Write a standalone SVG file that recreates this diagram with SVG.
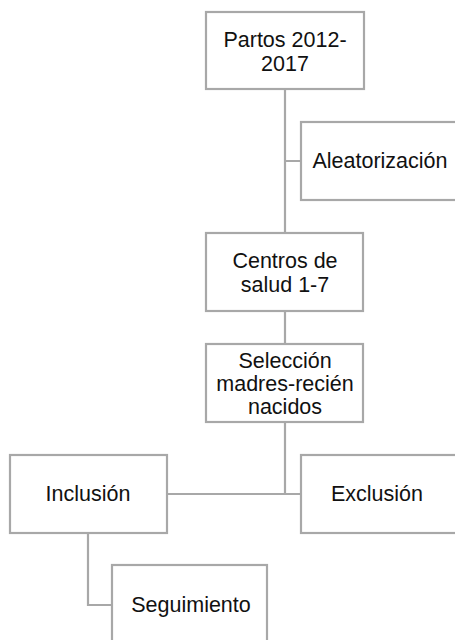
<svg xmlns="http://www.w3.org/2000/svg" width="455" height="640" viewBox="0 0 455 640">
<style>
.box{fill:#fff;stroke:#a8a8a8;stroke-width:2.2}
.lbl{font-family:"Liberation Sans",Arial,sans-serif;font-size:21.5px;fill:#111;text-anchor:middle}
.con{fill:none;stroke:#a8a8a8;stroke-width:2.2}
</style>
<rect width="455" height="640" fill="#fff"/>
<g id="connectors">
<path class="con" d="M285,89 V233 M285,161 H301 M285,311 V344 M285,422 V494 M167,494 H301 M88,533 V605 H112"/>
</g>
<g id="partos">
<rect class="box" x="206" y="12" width="158" height="77"/>
<text class="lbl" x="285" y="47">Partos 2012-</text>
<text class="lbl" x="285" y="71">2017</text>
</g>
<g id="aleatorizacion">
<rect class="box" x="301" y="122" width="160" height="78"/>
<text class="lbl" x="380" y="168">Aleatorización</text>
</g>
<g id="centros">
<rect class="box" x="206" y="233" width="157" height="78"/>
<text class="lbl" x="285" y="268">Centros de</text>
<text class="lbl" x="285" y="292">salud 1-7</text>
</g>
<g id="seleccion">
<rect class="box" x="206" y="344" width="157" height="78"/>
<text class="lbl" x="285" y="368">Selección</text>
<text class="lbl" x="285" y="391">madres-recién</text>
<text class="lbl" x="285" y="414">nacidos</text>
</g>
<g id="inclusion">
<rect class="box" x="10" y="455" width="157" height="78"/>
<text class="lbl" x="88" y="501">Inclusión</text>
</g>
<g id="exclusion">
<rect class="box" x="301" y="455" width="160" height="78"/>
<text class="lbl" x="377" y="501">Exclusión</text>
</g>
<g id="seguimiento">
<rect class="box" x="112" y="565" width="155" height="80"/>
<text class="lbl" x="191" y="612">Seguimiento</text>
</g>
</svg>
